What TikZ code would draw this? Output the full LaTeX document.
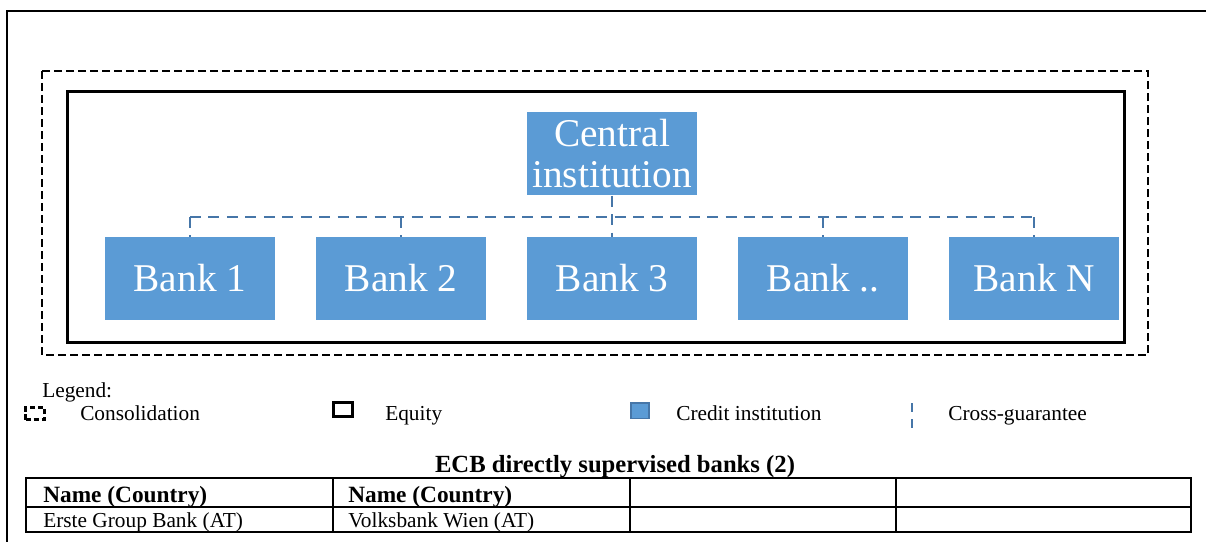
\documentclass[tikz,border=0pt]{standalone}
\usepackage{fontspec}
\setmainfont{Liberation Serif}
\usetikzlibrary{positioning}
\definecolor{boxBlue}{HTML}{5B9BD5}
\definecolor{lineBlue}{HTML}{4676A8}
\tikzset{
    bankBox/.style={rectangle, fill=boxBlue, text=white, inner sep=0pt, minimum width=127.5pt, minimum height=62.25pt, font=\fontsize{29.5}{30.75}\selectfont},
    guarLine/.style={draw=lineBlue, line width=1.5pt, dash pattern=on 8.25pt off 5.6pt},
    consLine/.style={draw=black, line width=2pt, dash pattern=on 6pt off 3pt},
    equityLine/.style={draw=black, line width=2.25pt},
    legText/.style={anchor=base west, inner sep=0pt, font=\fontsize{16}{19}\selectfont},
    headText/.style={anchor=base west, inner sep=0pt, font=\bfseries\fontsize{17.5}{21}\selectfont}
}

\begin{document}
\begin{tikzpicture}[x=0.75pt, y=-0.75pt, node distance=30.4pt]
    \useasboundingbox (0,0) rectangle (1206,542);
    \clip (0,0) rectangle (1206,542);
    % --- page frame (runs on past the right and bottom edges) ---
    \draw[line width=1.5pt] (7,560) -- (7,11) -- (1220,11);

    % --- consolidation and equity frames ---
    \draw[consLine] (42,71) rectangle (1148,355);
    \draw[equityLine] (67,92) rectangle (1124,342);

    % --- credit institutions ---
    \node[bankBox] (bank1) at (190,278.5) {Bank 1};
    \node[bankBox, right=of bank1] (bank2) {Bank 2};
    \node[bankBox, right=of bank2] (bank3) {Bank 3};
    \node[bankBox, right=of bank3] (bankX) {Bank ..};
    \node[bankBox, right=of bankX] (bankN) {Bank N};
    \node[bankBox, above=30.75pt of bank3, align=center] (central) {Central\\institution};

    % --- cross-guarantee scheme ---
    \coordinate (rail) at (612,217);
    \draw[guarLine] (bank1.north |- rail) -- (bankN.north |- rail);
    \foreach \b in {bank1,bank2,bankX,bankN}
        \draw[guarLine] (\b.north |- rail) -- (\b.north);
    \draw[guarLine] (central) -- (bank3);

    % --- legend ---
    \node[legText] (legHead) at (42,397) {Legend:};
    \node[draw=black, line width=1.8pt, dash pattern=on 4pt off 2pt, inner sep=0pt, minimum width=14pt, minimum height=9pt] (icCons) at (35,413.5) {};
    \node[legText] (legCons) at (80,420) {Consolidation};
    \node[draw=black, line width=1.8pt, inner sep=0pt, minimum width=14pt, minimum height=10.5pt] (icEquity) at (343,409.5) {};
    \node[legText] (legEquity) at (385,420) {Equity};
    \node[fill=boxBlue, draw=lineBlue, line width=1pt, inner sep=0pt, minimum width=13.5pt, minimum height=11.5pt] (icCredit) at (640,410.5) {};
    \node[legText] (legCredit) at (676,420) {Credit institution};
    \coordinate (icGuarTop) at (912,403);
    \coordinate (icGuarBot) at (912,429);
    \draw[guarLine, dash pattern=on 7pt off 5pt] (icGuarTop) -- (icGuarBot);
    \node[legText] (legGuar) at (948,420) {Cross-guarantee};

    % --- table of supervised banks ---
    \node[anchor=base, inner sep=0pt, font=\bfseries\fontsize{18.5}{22}\selectfont] (tabTitle) at (615,472) {ECB directly supervised banks (2)};
    \draw[line width=1.5pt] (26,478) rectangle (1191,532);
    \draw[line width=1.5pt] (26,507) -- (1191,507);
    \foreach \cx in {333,630,896}
        \draw[line width=1.5pt] (\cx,478) -- (\cx,532);
    \node[headText] (head1) at (43,502) {Name (Country)};
    \node[headText] (head2) at (348,502) {Name (Country)};
    \node[legText] (cell1) at (43,527) {Erste Group Bank (AT)};
    \node[legText] (cell2) at (348,527) {Volksbank Wien (AT)};
\end{tikzpicture}
\end{document}
